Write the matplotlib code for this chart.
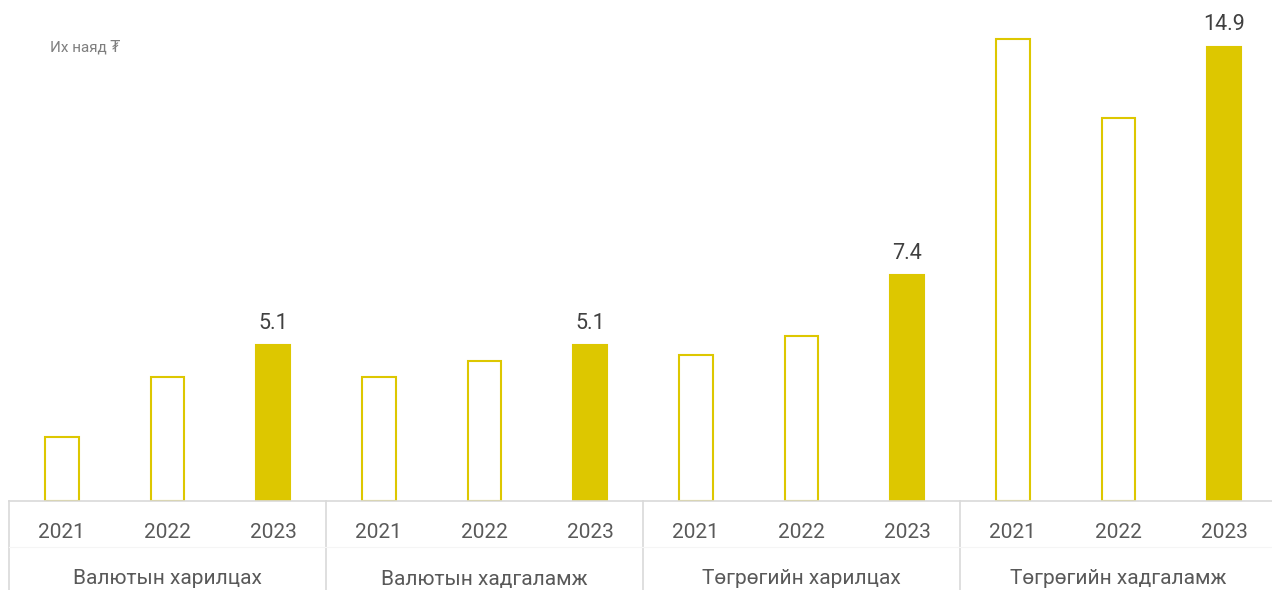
# Bar chart: deposits by type, 2021-2023
import matplotlib.pyplot as plt
from matplotlib.transforms import blended_transform_factory
from matplotlib.lines import Line2D

plt.rcParams['font.family'] = ['Roboto', 'DejaVu Sans']

categories = ["Валютын харилцах", "Валютын хадгаламж", "Төгрөгийн харилцах", "Төгрөгийн хадгаламж"]
years = ["2021", "2022", "2023"]
values = [
    [2.1, 4.05, 5.1],
    [4.05, 4.6, 5.1],
    [4.8, 5.4, 7.4],
    [15.15, 12.55, 14.9],
]
unit_label = "Их наяд ₮"

gold = "#DDC700"
grid_col = "#D9D9D9"

fig = plt.figure(figsize=(12.72, 5.9), dpi=100)
ax = fig.add_axes([9 / 1272, 1 - 501 / 590, 1268 / 1272, 501 / 590])

n_years = len(years)
x = 0
for ci, cat in enumerate(categories):
    for yi, yr in enumerate(years):
        v = values[ci][yi]
        last = yi == n_years - 1
        ax.bar(x, v, width=0.32, color=gold if last else "white",
               edgecolor=gold, linewidth=1.5, zorder=2)
        if last:
            ax.text(x, v + 0.38, f"{v:.1f}", ha="center", va="bottom",
                    fontsize=15.5, color="#404040")
        x += 1

ax.set_xlim(-0.5, x - 0.5)
ax.set_ylim(0, 501 / 30.5)
for s in ["top", "right", "left"]:
    ax.spines[s].set_visible(False)
ax.spines["bottom"].set_color(grid_col)
ax.spines["bottom"].set_linewidth(1.2)
ax.set_xticks([])
ax.set_yticks([])

tr = blended_transform_factory(ax.transData, fig.transFigure)
for i in range(x):
    ax.text(i, 1 - 532 / 590, years[i % n_years], transform=tr, ha="center",
            va="center", fontsize=15, color="#595959")
for ci, cat in enumerate(categories):
    ax.text(ci * n_years + 1, 1 - 579 / 590, cat, transform=tr, ha="center",
            va="center", fontsize=15, color="#595959")
for b in range(len(categories) + 1):
    xb = b * n_years - 0.5
    fig.add_artist(Line2D([xb, xb], [0, 1 - 501 / 590], transform=tr,
                          color=grid_col, linewidth=1.2))
fig.add_artist(Line2D([-0.5, x - 0.5], [1 - 547 / 590] * 2, transform=tr,
                      color="#F5F5F5", linewidth=0.8))

fig.text(50 / 1272, 1 - 47 / 590, unit_label, ha="left", va="center",
         fontsize=11, color="#7F7F7F")

fig.savefig("out.png", dpi=100)
